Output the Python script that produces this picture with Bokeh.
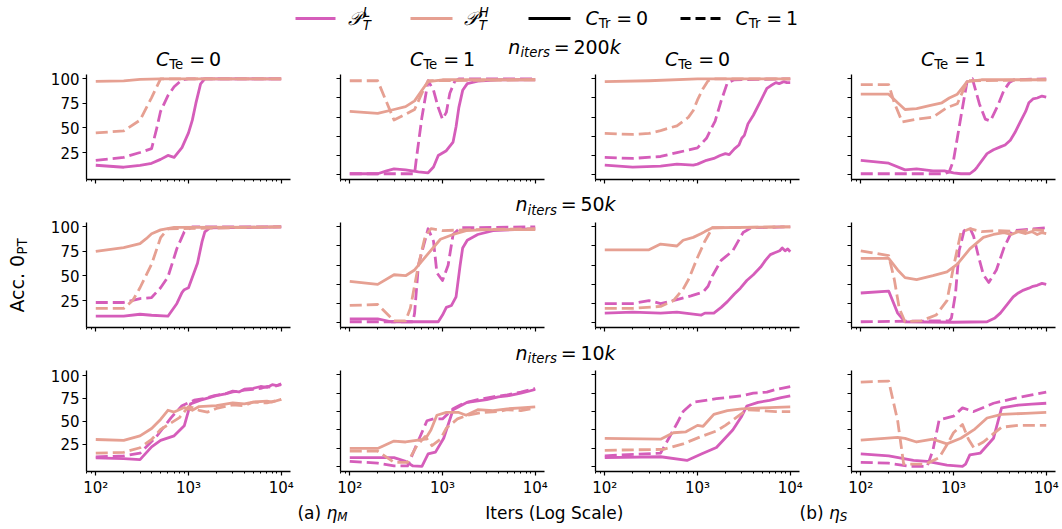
import math
from bokeh.plotting import figure
from bokeh.models import Range1d, FixedTicker
from bokeh.layouts import row, column
from bokeh.core.properties import value
from bokeh.embed import file_html
from bokeh.resources import INLINE

# ---------------- data: (iterations, accuracy %) ----------------
# L = P_T^L (pink), H = P_T^H (salmon); solid = C_Tr=0, dash = C_Tr=1
# row 1: n_iters = 200k
r1c1_L_solid = [(100,12),(200,10),(300,12),(400,14),(500,18),(600,22),(700,20),(850,30),(1000,45),(1100,58),(1200,75),(1350,95),(1500,100),(10000,100)]
r1c1_L_dash  = [(100,17),(200,20),(300,25),(400,29),(450,48),(500,67),(600,83),(700,92),(850,99),(1000,100),(10000,100)]
r1c1_H_solid = [(100,97.5),(200,98),(300,99.5),(500,100),(10000,100)]
r1c1_H_dash  = [(100,45),(200,47),(300,58),(400,81),(500,100),(10000,100)]

r1c2_L_solid = [(100,1),(200,1),(250,4),(300,6),(400,5),(550,3),(700,2),(800,8),(900,20),(1100,25),(1300,34),(1400,50),(1500,70),(1650,88),(1850,95),(2400,97.5),(4000,99),(10000,99)]
r1c2_L_dash  = [(100,1),(300,1),(500,1),(520,15),(600,60),(700,98),(800,88),(900,70),(1000,58),(1100,65),(1200,85),(1350,97),(1500,100),(10000,100)]
r1c2_H_solid = [(100,66),(200,64),(300,68),(400,71),(500,77),(600,88),(700,97),(1000,99),(10000,99)]
r1c2_H_dash  = [(100,98),(200,98),(300,57),(400,63),(500,68),(600,85),(700,98),(10000,99)]

r1c3_L_solid = [(100,10),(200,8),(400,9),(600,11),(900,10),(1000,11),(1250,15),(1500,17),(1750,20),(2000,22),(2200,21),(2500,27),(2800,31),(3000,38),(3200,41),(3500,53),(4000,62),(4800,77),(5600,90),(6200,93),(7000,96),(7600,95),(8500,97),(9200,96),(10000,96)]
r1c3_L_dash  = [(100,18),(200,17),(400,19),(600,23),(1000,28),(1250,38),(1550,56),(1800,77),(2100,96),(2500,99),(10000,100)]
r1c3_H_solid = [(100,97),(300,98),(1000,100),(10000,100)]
r1c3_H_dash  = [(100,43),(200,42),(300,43),(400,46),(600,51),(800,60),(900,67),(1000,78),(1150,90),(1300,98),(1500,100),(10000,100)]

r1c4_L_solid = [(100,15),(200,12),(300,5),(400,6),(600,4),(800,4),(1000,2),(1200,1),(1500,1),(1700,5),(1800,8),(2300,22),(2700,26),(3200,29),(3600,31),(4100,36),(4600,44),(5300,56),(6000,66),(6500,75),(7200,79),(8000,80),(9000,82),(10000,81)]
r1c4_L_dash  = [(100,1),(800,1),(900,3),(1000,15),(1200,60),(1400,97),(1600,100),(1900,74),(2200,58),(2500,56),(3000,72),(3500,88),(4000,96),(4500,99),(10000,100)]
r1c4_H_solid = [(100,84),(200,84),(250,75),(300,68),(400,69),(550,72),(750,75),(900,80),(1100,84),(1300,93),(1400,97),(2000,99),(10000,99)]
r1c4_H_dash  = [(100,94),(200,94),(230,75),(280,55),(400,58),(600,60),(850,70),(1100,74),(1300,90),(1450,98),(10000,99)]

# row 2: n_iters = 50k
r2c1_L_solid = [(100,9),(200,9),(300,11),(400,10),(600,9),(750,22),(850,33),(900,36),(1000,38),(1250,63),(1400,85),(1500,95),(1700,99),(10000,100)]
r2c1_L_dash  = [(100,23),(200,23),(300,27),(400,28),(500,38),(600,49),(750,78),(900,95),(1100,100),(10000,100)]
r2c1_H_solid = [(100,75),(200,79),(300,83),(350,88),(400,93),(500,97),(700,99.5),(10000,100)]
r2c1_H_dash  = [(100,17),(200,17),(250,25),(300,38),(400,62),(500,89),(600,98),(10000,100)]

r2c2_L_solid = [(100,4),(200,4),(280,1),(900,1),(1000,8),(1100,16),(1250,18),(1400,27),(1550,60),(1650,78),(1850,86),(2400,92),(3500,96),(10000,98)]
r2c2_L_dash  = [(100,1),(480,1),(500,10),(550,60),(700,98),(800,85),(870,52),(1000,44),(1150,60),(1300,92),(1550,99),(10000,100)]
r2c2_H_solid = [(100,43),(200,40),(300,50),(400,49),(500,55),(700,72),(950,87),(1300,92),(1800,96),(3000,97),(10000,97)]
r2c2_H_dash  = [(100,18),(200,19),(300,2),(400,2),(450,15),(550,60),(650,90),(750,98),(1000,96),(2000,97),(10000,98)]

r2c3_L_solid = [(100,10),(200,11),(400,10),(600,11),(900,9),(1100,8),(1200,10),(1500,10),(1800,16),(2100,22),(2500,30),(2900,36),(3400,44),(4000,50),(4800,58),(5400,65),(6100,71),(6800,73),(7700,75),(8200,78),(8800,75),(9400,77),(10000,74)]
r2c3_L_dash  = [(100,20),(200,20),(300,23),(400,20),(600,24),(850,28),(1150,32),(1300,38),(1450,49),(1800,65),(2400,75),(3100,94),(3800,99),(10000,100)]
r2c3_H_solid = [(100,76),(300,76),(400,82),(600,80),(700,86),(900,89),(1100,93),(1200,95),(1450,99),(10000,100)]
r2c3_H_dash  = [(100,15),(200,15),(400,17),(550,23),(700,35),(800,45),(1000,68),(1200,85),(1450,99),(10000,100)]

r2c4_L_solid = [(100,31),(200,33),(250,10),(300,1),(1000,0.5),(2300,1),(2800,5),(3200,10),(3800,19),(4400,27),(5000,31),(5700,34),(6500,36),(7200,38),(8000,39),(9000,41),(10000,40)]
r2c4_L_dash  = [(100,1),(900,2),(950,5),(1050,30),(1150,75),(1300,96),(1500,99),(1650,90),(1850,70),(2100,50),(2400,42),(2900,55),(3500,78),(4300,96),(10000,99)]
r2c4_H_solid = [(100,67),(200,67),(250,55),(300,47),(400,45),(600,49),(850,53),(1100,61),(1500,77),(2100,89),(2700,92),(3500,94),(4200,92),(5000,95),(6000,93),(7000,95),(8000,92),(9000,94),(10000,93)]
r2c4_H_dash  = [(100,75),(200,70),(230,45),(260,15),(300,1),(450,2),(650,8),(850,23),(1000,58),(1200,94),(1500,98),(2000,95),(3000,96),(5000,95),(7000,97),(10000,96)]

# row 3: n_iters = 10k
r3c1_L_solid = [(100,10),(200,9),(300,8),(400,22),(500,29),(700,34),(900,45),(1050,69),(1350,73),(2000,78),(2500,80),(3000,83),(3500,82),(4000,85),(5000,86),(6000,88),(7000,87),(8000,90),(9000,89),(10000,91)]
r3c1_L_dash  = [(100,11),(200,12),(300,15),(450,33),(650,54),(850,67),(1150,73),(1500,75),(1900,78),(2500,80),(3000,82),(4000,84),(5000,85),(6000,86),(7000,88),(8000,87),(9000,89),(10000,90)]
r3c1_H_solid = [(100,30),(200,29),(300,34),(400,42),(500,52),(600,62),(700,60),(900,65),(1100,62),(1300,66),(2000,67),(3000,70),(4000,69),(5000,71),(7000,72),(8000,71),(10000,74)]
r3c1_H_dash  = [(100,15),(200,16),(300,21),(400,30),(500,41),(800,54),(1000,66),(1100,65),(1300,62),(1600,60),(2000,64),(3000,68),(4000,67),(5000,71),(7000,70),(10000,74)]

r3c2_L_solid = [(100,10),(200,10),(300,10),(400,6),(480,1),(600,0.5),(700,14),(840,16),(1030,31),(1300,62),(1850,70),(3000,73),(4000,76),(5000,77),(7000,80),(8500,82),(10000,84)]
r3c2_L_dash  = [(100,6),(200,4),(300,1),(420,1),(530,25),(680,50),(800,52),(1000,52),(1300,63),(1700,69),(2400,73),(3500,76),(5000,78),(7000,81),(10000,85)]
r3c2_H_solid = [(100,20),(200,20),(300,28),(400,27),(650,30),(750,40),(870,56),(1100,59),(1500,59),(1800,56),(2400,62),(3500,61),(5000,63),(7000,64),(10000,65)]
r3c2_H_dash  = [(100,17),(200,17),(300,5),(420,5),(530,23),(650,33),(770,23),(950,30),(1100,42),(1450,52),(1850,56),(2700,59),(4000,60),(5000,62),(7000,61),(10000,64)]

r3c3_L_solid = [(100,10),(400,11),(770,7),(1100,14),(1600,21),(2400,40),(3000,55),(3400,66),(4500,70),(6000,72),(8000,75),(10000,77)]
r3c3_L_dash  = [(100,12),(400,15),(600,47),(700,60),(900,70),(1600,74),(3000,77),(4000,80),(5600,81),(7000,84),(10000,87)]
r3c3_H_solid = [(100,31),(400,30),(550,37),(750,38),(1000,45),(1150,44),(1300,50),(1500,57),(2100,61),(3000,63),(5000,64),(10000,65)]
r3c3_H_dash  = [(100,18),(430,19),(700,25),(1100,33),(1600,39),(2000,45),(2500,52),(3400,62),(5000,61),(7000,60),(10000,60)]

r3c4_L_solid = [(100,14),(200,12),(370,7),(520,6),(850,2),(1250,0.5),(1350,3),(1500,13),(1950,15),(2700,31),(3300,64),(5000,67),(7000,68),(10000,69)]
r3c4_L_dash  = [(100,5),(200,4),(350,0.5),(520,0.5),(600,18),(700,51),(1000,55),(1250,64),(1650,60),(2700,69),(4400,74),(7000,78),(10000,81)]
r3c4_H_solid = [(100,29),(250,32),(300,31),(400,27),(600,30),(850,25),(1200,31),(1700,41),(2300,53),(3300,57),(6000,58),(10000,59)]
r3c4_H_dash  = [(100,92),(200,93),(250,50),(290,3),(500,3),(700,10),(850,24),(1000,37),(1250,46),(1450,30),(1650,21),(2100,27),(2700,36),(3300,43),(5000,45),(10000,45)]

row_iters = ["200", "50", "10"]
col_te = ["0", "1", "0", "1"]
x_major = [100, 1000, 10000]
x_major_labels = ["10²", "10³", "10⁴"]
x_minor = [80, 90, 200, 300, 400, 500, 600, 700, 800, 900,
           2000, 3000, 4000, 5000, 6000, 7000, 8000, 9000]
col1_yticks = [25, 50, 75, 100]
other_yticks = [0, 20, 40, 60, 80, 100]

PANELS = [
    [(r1c1_L_solid, r1c1_L_dash, r1c1_H_solid, r1c1_H_dash),
     (r1c2_L_solid, r1c2_L_dash, r1c2_H_solid, r1c2_H_dash),
     (r1c3_L_solid, r1c3_L_dash, r1c3_H_solid, r1c3_H_dash),
     (r1c4_L_solid, r1c4_L_dash, r1c4_H_solid, r1c4_H_dash)],
    [(r2c1_L_solid, r2c1_L_dash, r2c1_H_solid, r2c1_H_dash),
     (r2c2_L_solid, r2c2_L_dash, r2c2_H_solid, r2c2_H_dash),
     (r2c3_L_solid, r2c3_L_dash, r2c3_H_solid, r2c3_H_dash),
     (r2c4_L_solid, r2c4_L_dash, r2c4_H_solid, r2c4_H_dash)],
    [(r3c1_L_solid, r3c1_L_dash, r3c1_H_solid, r3c1_H_dash),
     (r3c2_L_solid, r3c2_L_dash, r3c2_H_solid, r3c2_H_dash),
     (r3c3_L_solid, r3c3_L_dash, r3c3_H_solid, r3c3_H_dash),
     (r3c4_L_solid, r3c4_L_dash, r3c4_H_solid, r3c4_H_dash)],
]

# ---------------- styles / layout ----------------
PINK = "#D55DBA"
SALMON = "#E6A092"
LW = 2.8
DASH = "12 5"
FONT = "DejaVu Sans"
BASE_FIX = 0.40   # renderer places alphabetic baseline this many em too low

LEFT_W = 44
COL_W = [254, 254, 255, 255]
COL_LB = [42, 42, 43, 44]
COL_RB = [8, 8, 8, 7]
ROW_H = [118, 118, 131]
ROW_TB = [2, 2, 2]
ROW_BB = [11, 11, 24]
MAIN_W = sum(COL_W)
Y_RANGES = [[(-2.5, 104.5), (-5, 104.5), (-5, 104.5), (-5, 104.5)],
            [(-2.5, 104.5), (-5, 104.5), (-5, 104.5), (-5, 104.5)],
            [(-5, 105.5), (-5, 104.5), (-5, 104.5), (-5, 104.5)]]

EM = {' ': 0.318, '(': 0.390, ')': 0.390, '.': 0.318, '=': 0.838, '0': 0.636, '1': 0.636,
      '2': 0.636, '5': 0.636, 'A': 0.684, 'C': 0.698, 'H': 0.752, 'I': 0.295, 'L': 0.557,
      'M': 0.863, 'P': 0.603, 'S': 0.635, 'T': 0.611, 'a': 0.613, 'b': 0.635, 'c': 0.550,
      'e': 0.615, 'g': 0.635, 'i': 0.278, 'k': 0.579, 'l': 0.278, 'n': 0.634, 'o': 0.612,
      'r': 0.411, 's': 0.521, 't': 0.392, 'η': 0.634, '𝒫': 0.80}


def tw(s, size):
    return sum(EM.get(ch, 0.6) for ch in s) * size


def rich(p, x, y, segs, size, align="center", vertical=False, font=FONT):
    """segs: (text, italic, scale, shift_em(+down), gap_em_before)"""
    widths = [tw(t, size * sc) + g * size for (t, it, sc, sh, g) in segs]
    total = sum(widths)
    start = {"center": -total / 2, "left": 0, "right": -total}[align]
    cur = start
    for (t, it, sc, sh, g), wdt in zip(segs, widths):
        cur += g * size
        fs = size * sc
        kw = dict(text=[t], text_font=value(font), text_font_size=f"{fs:.1f}px",
                  text_font_style="italic" if it else "normal", text_color="black",
                  text_align="left", text_baseline="alphabetic")
        drop = sh * size - BASE_FIX * fs
        if vertical:
            p.text(x=[x + drop], y=[-(y - cur)], angle=math.pi / 2, **kw)
        else:
            p.text(x=[x + cur], y=[-(y + drop)], **kw)
        cur += wdt - g * size


def deco(x0, y0, w, h):
    p = figure(width=w, height=h, x_range=Range1d(x0, x0 + w), y_range=Range1d(-(y0 + h), -y0),
               output_backend="svg", toolbar_location=None, tools="", min_border=0,
               x_axis_type=None, y_axis_type=None)
    p.outline_line_color = None
    p.grid.visible = False
    p.background_fill_color = None
    p.border_fill_color = "white"
    return p


def hide_labels(ax):
    ax.major_label_text_color = None
    ax.major_label_text_font_size = "1px"
    ax.major_label_standoff = 0


def panel(r, c):
    p = figure(width=COL_W[c], height=ROW_H[r], x_axis_type="log",
               x_range=Range1d(10 ** 1.9, 10 ** 4.1), y_range=Range1d(*Y_RANGES[r][c]),
               output_backend="svg", toolbar_location=None, tools="",
               min_border_left=COL_LB[c], min_border_right=COL_RB[c],
               min_border_top=ROW_TB[r], min_border_bottom=ROW_BB[r])
    p.outline_line_color = None
    p.grid.visible = False
    for ax in (p.xaxis[0], p.yaxis[0]):
        ax.axis_line_color = "black"
        ax.axis_line_width = 1.3
        ax.major_tick_line_color = "black"
        ax.major_tick_line_width = 1.2
        ax.minor_tick_line_color = "black"
        ax.minor_tick_line_width = 1
        ax.major_tick_in = 0
        ax.major_tick_out = 4
        ax.minor_tick_in = 0
        ax.minor_tick_out = 2
        ax.major_label_text_font = FONT
        ax.major_label_text_font_size = "15px"
        ax.major_label_text_color = "black"
        ax.major_label_standoff = 3
    p.xaxis.ticker = FixedTicker(ticks=x_major, minor_ticks=x_minor)
    if r == 2:
        p.xaxis.major_label_overrides = dict(zip(x_major, x_major_labels))
    else:
        hide_labels(p.xaxis[0])
    yt = col1_yticks if c == 0 else other_yticks
    p.yaxis.ticker = FixedTicker(ticks=yt, minor_ticks=[])
    if c != 0:
        hide_labels(p.yaxis[0])
    Ls, Ld, Hs, Hd = PANELS[r][c]
    for data, col, dash in ((Ls, PINK, "solid"), (Ld, PINK, DASH), (Hs, SALMON, "solid"), (Hd, SALMON, DASH)):
        xs = [d[0] for d in data]
        ys = [d[1] for d in data]
        p.line(xs, ys, line_color=col, line_width=LW, line_dash=dash, line_join="round")
    return p


X0 = LEFT_W
# header: legend, top row title, column titles
header = deco(X0, 0, MAIN_W, 72)
header.line([295, 335], [-18, -18], line_color=PINK, line_width=LW)
rich(header, 347, 25, [("𝒫", True, 1, 0, 0), ("T", True, 0.7, 0.27, 0), ("L", True, 0.7, -0.42, -0.428)], 19, align="left")
header.line([410, 452], [-18, -18], line_color=SALMON, line_width=LW)
rich(header, 463, 25, [("𝒫", True, 1, 0, 0), ("T", True, 0.7, 0.27, 0), ("H", True, 0.7, -0.42, -0.428)], 19, align="left")
header.line([528, 570], [-18, -18], line_color="black", line_width=LW)
rich(header, 585, 25, [("C", True, 1, 0, 0), ("Tr", False, 0.7, 0.2, 0), ("=", False, 1, 0, 0.2), ("0", False, 1, 0, 0.2)], 19, align="left")
header.line([680, 722], [-18, -18], line_color="black", line_width=LW, line_dash="10 5")
rich(header, 735, 25, [("C", True, 1, 0, 0), ("Tr", False, 0.7, 0.2, 0), ("=", False, 1, 0, 0.2), ("1", False, 1, 0, 0.2)], 19, align="left")


def iters_title(p, x, y, k):
    rich(p, x, y, [("n", True, 1, 0, 0), ("iters", True, 0.7, 0.2, 0), ("=", False, 1, 0, 0.2),
                   (k, False, 1, 0, 0.2), ("k", True, 1, 0, 0)], 19)


iters_title(header, 564, 54, row_iters[0])
col_centers = []
xx = X0
for c in range(4):
    fl = xx + COL_LB[c]
    fw = COL_W[c] - COL_LB[c] - COL_RB[c]
    col_centers.append(fl + fw / 2)
    xx += COL_W[c]
for c in range(4):
    rich(header, col_centers[c], 66, [("C", True, 1, 0, 0), ("Te", False, 0.7, 0.15, 0),
                                      ("=", False, 1, 0, 0.2), (col_te[c], False, 1, 0, 0.2)], 19)

strip2 = deco(X0, 190, MAIN_W, 30)
iters_title(strip2, 565, 211.5, row_iters[1])
strip3 = deco(X0, 338, MAIN_W, 30)
iters_title(strip3, 565, 360, row_iters[2])

bottom = deco(X0, 499, MAIN_W, 30)
rich(bottom, 322, 519, [("(a) ", False, 1, 0, 0), ("η", True, 1, 0, 0), ("M", True, 0.7, 0.15, 0)], 17)
rich(bottom, 554, 519, [("Iters (Log Scale)", False, 1, 0, 0)], 17)
rich(bottom, 823, 519, [("(b) ", False, 1, 0, 0), ("η", True, 1, 0, 0), ("S", True, 0.7, 0.15, 0)], 17)

left = deco(0, 0, LEFT_W, 529)
rich(left, 24, 275, [("Acc. 0", False, 1, 0, 0), ("PT", False, 0.7, 0.2, 0)], 19, vertical=True)

rows = [row([panel(r, c) for c in range(4)], spacing=0) for r in range(3)]
main = column([header, rows[0], strip2, rows[1], strip3, rows[2], bottom], spacing=0)
layout = row([left, main], spacing=0)

open("out.html", "w").write(file_html(layout, INLINE))
